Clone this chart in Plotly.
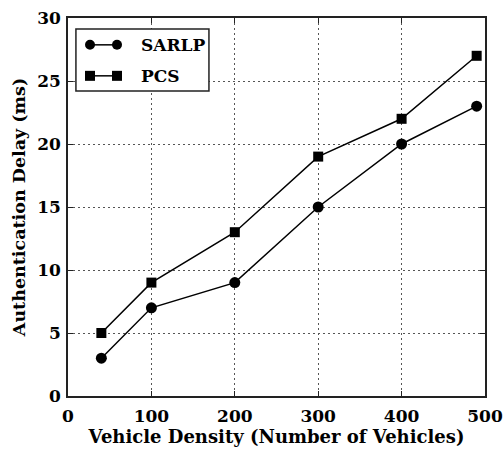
import plotly.graph_objects as go

vehicles = [40, 100, 200, 300, 400, 490]
sarlp = [3, 7, 9, 15, 20, 23]
pcs = [5, 9, 13, 19, 22, 27]
series_names = ["SARLP", "PCS"]

FONT = "DejaVu Serif"

fig = go.Figure()
fig.add_trace(go.Scatter(x=vehicles, y=sarlp, name=series_names[0], mode="lines+markers",
                         line=dict(color="black", width=1.5),
                         marker=dict(symbol="circle", size=11, color="black"),
                         showlegend=False))
fig.add_trace(go.Scatter(x=vehicles, y=pcs, name=series_names[1], mode="lines+markers",
                         line=dict(color="black", width=1.5),
                         marker=dict(symbol="square", size=10, color="black"),
                         showlegend=False))

axis_common = dict(showline=True, linecolor="#222", linewidth=1.5, mirror="ticks",
                   ticks="inside", ticklen=5, tickcolor="#222", tickwidth=1,
                   showgrid=True, gridcolor="#555", griddash="2px,3px", gridwidth=1,
                   zeroline=False, tickfont=dict(family=FONT, size=17, color="black"),
                   tickprefix="<b>", ticksuffix="</b>", automargin=False)

# custom legend (matplotlib-like: two markers per sample line)
shapes = [dict(type="rect", xref="paper", yref="paper", x0=0.019, x1=0.338, y0=0.807, y1=0.971,
               line=dict(color="#222", width=1.5), fillcolor="white", layer="above")]
annotations = []
rows = [(0.929, "circle"), (0.847, "square")]
lx0, lx1 = 0.0528, 0.1175
for (ry, sym), name in zip(rows, series_names):
    shapes.append(dict(type="line", xref="paper", yref="paper", x0=lx0, x1=lx1, y0=ry, y1=ry,
                       line=dict(color="black", width=1.5), layer="above"))
    for mx in (lx0, lx1):
        shapes.append(dict(type="circle" if sym == "circle" else "rect",
                           xref="paper", yref="paper", xsizemode="pixel", ysizemode="pixel",
                           xanchor=mx, yanchor=ry, x0=-5, x1=5, y0=-5, y1=5,
                           line=dict(color="black", width=0), fillcolor="black", layer="above"))
    annotations.append(dict(xref="paper", yref="paper", x=0.170, y=ry, xanchor="left",
                            yanchor="middle", showarrow=False, text=f"<b>{name}</b>",
                            font=dict(family=FONT, size=17, color="black")))

fig.update_layout(
    width=503, height=451,
    margin=dict(l=68, r=18, t=18, b=55),
    paper_bgcolor="white", plot_bgcolor="white",
    font=dict(family=FONT, color="black"),
    xaxis=dict(range=[0, 500], dtick=100, ticklabelstandoff=4,
               title=dict(text="<b>Vehicle Density (Number of Vehicles)</b>",
                          font=dict(family=FONT, size=18), standoff=5),
               **axis_common),
    yaxis=dict(range=[0, 30], dtick=5, ticklabelstandoff=2,
               title=dict(text="<b>Authentication Delay (ms)</b>",
                          font=dict(family=FONT, size=17.5), standoff=7),
               **axis_common),
    shapes=shapes, annotations=annotations,
)

fig.write_html("out.html")
